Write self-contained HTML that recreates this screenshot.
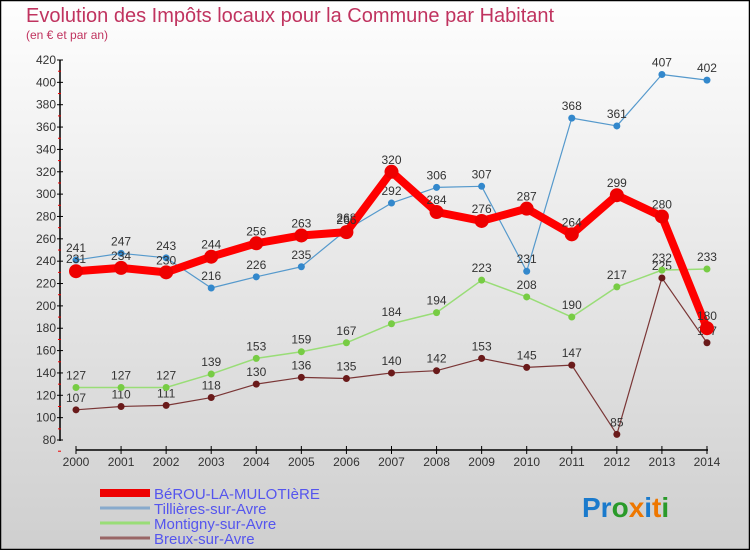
<!DOCTYPE html>
<html><head><meta charset="utf-8"><style>
html,body{margin:0;padding:0;}
body{width:750px;height:550px;overflow:hidden;font-family:"Liberation Sans",sans-serif;}
</style></head><body>
<svg id="chart" width="750" height="550" xmlns="http://www.w3.org/2000/svg">
<defs><linearGradient id="bg" x1="0" y1="0" x2="0" y2="1"><stop offset="0" stop-color="#fefefe"/><stop offset="1" stop-color="#cfcfcf"/></linearGradient></defs>
<rect x="0.5" y="0.5" width="749" height="549" fill="url(#bg)" stroke="#000" stroke-width="1.5"/>
<text x="26" y="22" font-size="20" fill="#c0335f">Evolution des Impôts locaux pour la Commune par Habitant</text>
<text x="26" y="39" font-size="12" fill="#c0335f">(en € et par an)</text>
<g id="axes"></g><g id="series"></g><g id="legend"></g>
<text x="582" y="517" font-size="28" font-weight="bold"><tspan fill="#1a7acc">Pr</tspan><tspan fill="#2a9a2a">o</tspan><tspan fill="#ee7700">x</tspan><tspan fill="#1a7acc">i</tspan><tspan fill="#ee7700">t</tspan><tspan fill="#2a9a2a">i</tspan></text>
</svg>
<script>
const years=[2000,2001,2002,2003,2004,2005,2006,2007,2008,2009,2010,2011,2012,2013,2014];
const yTicks=[80,100,120,140,160,180,200,220,240,260,280,300,320,340,360,380,400,420];
const berou=[231,234,230,244,256,263,266,320,284,276,287,264,299,280,180];
const tillieres=[241,247,243,216,226,235,268,292,306,307,231,368,361,407,402];
const montigny=[127,127,127,139,153,159,167,184,194,223,208,190,217,232,233];
const breux=[107,110,111,118,130,136,135,140,142,153,145,147,85,225,167];
const names=["BéROU-LA-MULOTIèRE","Tillières-sur-Avre","Montigny-sur-Avre","Breux-sur-Avre"];
const NS="http://www.w3.org/2000/svg";
const X0=76,XW=45.07,Y0=440,YMIN=80,YK=380/340;
function xs(i){return X0+i*XW;}
function ys(v){return Y0-(v-YMIN)*YK;}
function mk(t,a,p){const e=document.createElementNS(NS,t);for(const k in a)e.setAttribute(k,a[k]);p.appendChild(e);return e;}
const ax=document.getElementById('axes');
let l=mk('line',{x1:60,y1:60,x2:60,y2:441,stroke:'#000','stroke-width':1.5},ax);

l=mk('line',{x1:76,y1:450,x2:708,y2:450,stroke:'#000','stroke-width':1.5},ax);

yTicks.forEach(v=>{const y=ys(v);
 mk('line',{x1:57,y1:y,x2:63,y2:y,stroke:'#000'},ax);
 mk('line',{x1:58,y1:y+11.2,x2:61,y2:y+11.2,stroke:'#e00'},ax);
 const t=mk('text',{x:56,y:y+4,'text-anchor':'end','font-size':12,fill:'#333'},ax);t.textContent=v;
 });
years.forEach((yr,i)=>{const x=xs(i);
 mk('line',{x1:x,y1:446,x2:x,y2:454,stroke:'#000'},ax);
 const t=mk('text',{x:x,y:466,'text-anchor':'middle','font-size':12,fill:'#333'},ax);t.textContent=yr;
 });
const sg=document.getElementById('series');
function draw(vals,color,w,r,dot,name){
 const g=mk('g',{},sg);
 mk('polyline',{points:vals.map((v,i)=>xs(i)+','+ys(v)).join(' '),fill:'none',stroke:color,'stroke-width':w,'stroke-linejoin':'round'},g);
 vals.forEach((v,i)=>{const c=mk('circle',{cx:xs(i),cy:ys(v),r:r,fill:dot},g);
  
  const t=mk('text',{x:xs(i),y:ys(v)-8,'text-anchor':'middle','font-size':12,fill:'#333'},g);t.textContent=v;
  });
}
draw(breux,'#7a3636',1.2,3.5,'#6a1a1a','series-breux');
draw(montigny,'#99dd77',1.5,3.5,'#77cc44','series-montigny');
draw(tillieres,'#5599cc',1.2,3.5,'#3388cc','series-tillieres');
draw(berou,'#ff0000',8,7,'#ee0000','series-berou');
const lg=document.getElementById('legend');
const cols=['#ee0000','#88aacc','#99dd77','#996666'],wid=[8,3,3,3];
names.forEach((n,i)=>{const y=493+i*15;
 const g=mk('g',{},lg);
 mk('line',{x1:100,y1:y,x2:150,y2:y,stroke:cols[i],'stroke-width':wid[i]},g);
 const t=mk('text',{x:154,y:y+6,'font-size':15,fill:'#5555ee'},g);t.textContent=n;});
</script>
</body></html>
